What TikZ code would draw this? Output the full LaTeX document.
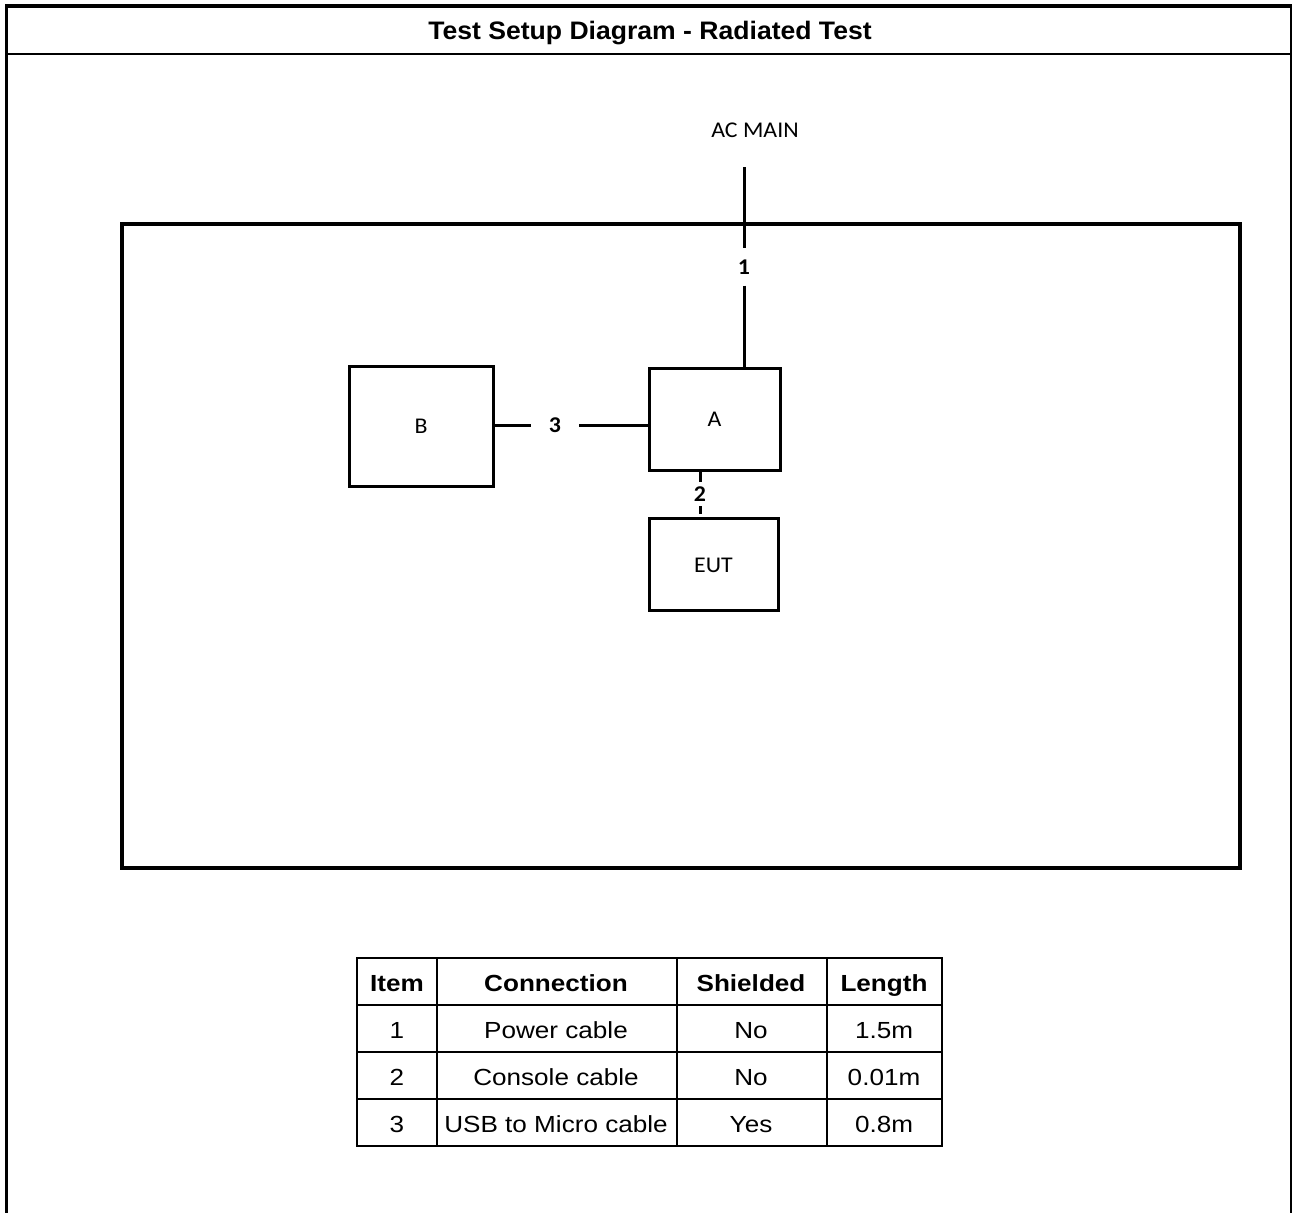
\documentclass[tikz,border=0pt]{standalone}
\usepackage{fontspec}
\setmainfont{Liberation Sans}
\newfontfamily\titlefont[FakeStretch=1.05]{Liberation Sans}
\newfontfamily\tabfont[FakeStretch=1.12]{Liberation Sans}
\newfontfamily\calfont[FakeStretch=1.06]{Carlito}
\begin{document}
\begin{tikzpicture}[x=1pt,y=-1pt,
  frame/.style={line width=3.2pt},
  box/.style={draw, line width=3pt, inner sep=0pt, font=\calfont\fontsize{22.5}{26}\selectfont},
  cablelabel/.style={inner sep=0pt, font=\calfont\bfseries\fontsize{22.5}{26}\selectfont},
  wire/.style={line width=3pt},
  tabline/.style={line width=2.4pt},
  cell/.style={inner sep=0pt, anchor=base, font=\tabfont\fontsize{23.3}{27}\selectfont},
  head/.style={inner sep=0pt, anchor=base, font=\tabfont\bfseries\fontsize{23.3}{27}\selectfont}]
\useasboundingbox (0,0) rectangle (1292,1213);
% outer frame
\draw[frame] (5,6) -- (1292,6);
\draw[line width=3pt] (6.5,4.5) -- (6.5,1213);
\draw[line width=1.6pt] (1291,4.5) -- (1291,1213);
\draw[line width=2.2pt] (5,54) -- (1291,54);
\node[inner sep=0pt, anchor=base, font=\titlefont\bfseries\fontsize{25.3}{30}\selectfont] (title) at (650,39) {Test Setup Diagram - Radiated Test};
% test area
\draw[line width=3.4pt] (122,224) rectangle (1240,868);
% equipment
\node[box, minimum width=144pt, minimum height=120pt] (B) at (421,426) {B};
\node[box, minimum width=131pt, minimum height=102pt] (A) at (714.5,419) {A};
\node[box, minimum width=129pt, minimum height=92pt, text height=17pt] (EUT) at (713.5,564) {EUT};
\node[inner sep=0pt, anchor=base, font=\calfont\fontsize{22.5}{26}\selectfont] (acmain) at (755,137) {AC MAIN};
\coordinate (ac) at (744,167);
% cable 1
\node[cablelabel, minimum height=37pt] (n1) at (744,267) {1};
\draw[wire] (ac) -- (n1);
\draw[wire] (n1) -- (A.north -| ac);
% cable 3
\node[cablelabel, minimum width=48pt] (n3) at (555,425) {3};
\draw[wire] (B.east |- n3) -- (n3);
\draw[wire] (n3) -- (n3 -| A.west);
% cable 2
\node[cablelabel, minimum height=24pt] (n2) at (700,494) {2};
\draw[wire] (A.south -| n2) -- (n2);
\draw[wire] (n2) -- ([yshift=3pt]EUT.north -| n2);
% table grid
\draw[tabline] (357,958) rectangle (942,1146);
\foreach \yy in {1005,1052,1099} \draw[tabline] (357,\yy) -- (942,\yy);
\foreach \xx in {437,677,827} \draw[tabline] (\xx,958) -- (\xx,1146);
% header
\node[head] (h1) at (397,991) {Item};
\node[head] (h2) at (556,991) {Connection};
\node[head] (h3) at (751,991) {Shielded};
\node[head] (h4) at (884,991) {Length};
% rows
\node[cell] (r1a) at (397,1038.5) {1};
\node[cell] (r1b) at (556,1038.5) {Power cable};
\node[cell] (r1c) at (751,1038.5) {No};
\node[cell] (r1d) at (884,1038.5) {1.5m};
\node[cell] (r2a) at (397,1085.5) {2};
\node[cell] (r2b) at (556,1085.5) {Console cable};
\node[cell] (r2c) at (751,1085.5) {No};
\node[cell] (r2d) at (884,1085.5) {0.01m};
\node[cell] (r3a) at (397,1132.5) {3};
\node[cell] (r3b) at (556,1132.5) {USB to Micro cable};
\node[cell] (r3c) at (751,1132.5) {Yes};
\node[cell] (r3d) at (884,1132.5) {0.8m};
\end{tikzpicture}
\end{document}
